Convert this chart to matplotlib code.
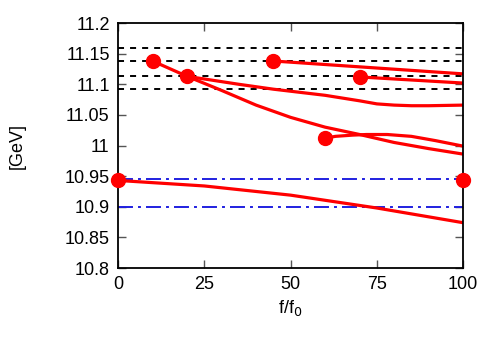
import matplotlib
matplotlib.use("Agg")
import matplotlib.pyplot as plt
import numpy as np

plt.rcParams['font.family'] = ['Liberation Sans', 'DejaVu Sans']

# Horizontal reference levels
black_levels = [11.159, 11.138, 11.113, 11.093]
blue_levels = [10.945, 10.899]

# Curves (f/f0, energy)
c1_x = [10, 20]
c1_y = [11.138, 11.113]
c2_x = [20, 35, 45, 60, 70, 75, 80, 85, 90, 100]
c2_y = [11.113, 11.100, 11.092, 11.082, 11.073, 11.068, 11.066, 11.065, 11.065, 11.066]
c3_x = [20, 30, 40, 50, 60, 70, 80, 90, 100]
c3_y = [11.113, 11.090, 11.066, 11.046, 11.030, 11.018, 11.005, 10.995, 10.986]
c4_x = [45, 100]
c4_y = [11.138, 11.117]
c5_x = [70, 100]
c5_y = [11.112, 11.102]
c6_x = [60, 63, 68, 72, 78, 85, 92, 100]
c6_y = [11.012, 11.015, 11.017, 11.018, 11.018, 11.015, 11.008, 10.999]
c7_x = [0, 25, 50, 75, 100]
c7_y = [10.943, 10.934, 10.919, 10.898, 10.874]

pts_x = [0, 10, 20, 45, 60, 70, 100]
pts_y = [10.943, 11.138, 11.113, 11.138, 11.012, 11.112, 10.943]

fig = plt.figure(figsize=(4.98, 3.49), dpi=100)
ax = fig.add_axes([0.237, 0.232, 0.693, 0.702])

for y in black_levels:
    ax.axhline(y, color='black', lw=1.4, ls=(0, (3.1, 3.1)))
for y in blue_levels:
    ax.axhline(y, color='#2020e0', lw=1.4, ls=(0, (7.7, 2.6, 1.5, 2.6)))

for xs, ys in [(c1_x, c1_y), (c2_x, c2_y), (c3_x, c3_y), (c4_x, c4_y),
               (c5_x, c5_y), (c6_x, c6_y), (c7_x, c7_y)]:
    ax.plot(xs, ys, color='red', lw=2.3, solid_capstyle='round',
            solid_joinstyle='round')

ax.plot(pts_x, pts_y, 'o', color='red', ms=10, clip_on=False, zorder=5)

ax.set_xlim(0, 100)
ax.set_ylim(10.8, 11.2)
ax.set_xticks([0, 25, 50, 75, 100])
ax.set_xticklabels(['0', '25', '50', '75', '100'])
ax.set_yticks([10.8, 10.85, 10.9, 10.95, 11.0, 11.05, 11.1, 11.15, 11.2])
ax.set_yticklabels(['10.8', '10.85', '10.9', '10.95', '11', '11.05', '11.1', '11.15', '11.2'])
ax.tick_params(direction='in', length=6, width=1, color='#555555',
               top=True, right=True, labelsize=13, pad=6)
for s in ax.spines.values():
    s.set_linewidth(1.3)

ax.set_xlabel('f/f$_0$', fontsize=13, labelpad=3)
ax.set_ylabel('[GeV]', fontsize=13, labelpad=28)

fig.savefig('out.png', dpi=100)
